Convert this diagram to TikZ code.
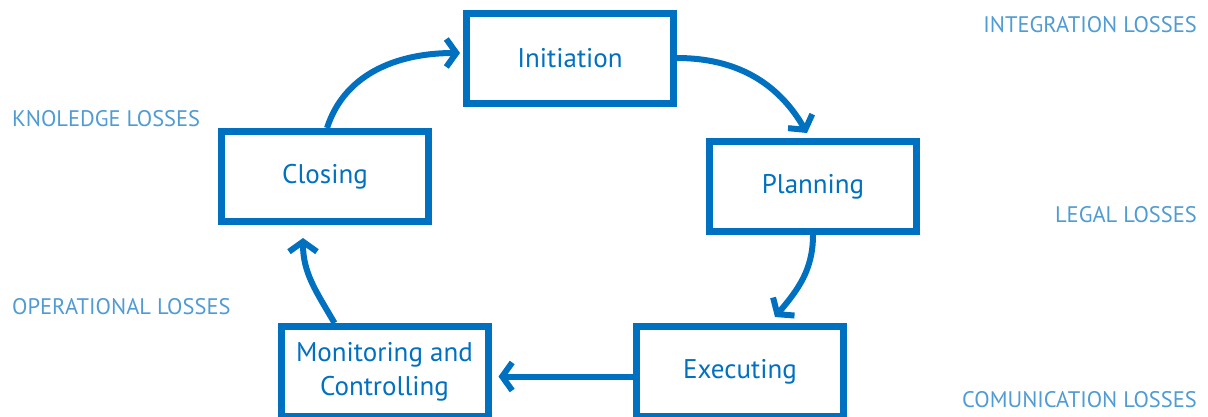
\documentclass[tikz,border=0pt]{standalone}
\usepackage{fontspec}
\setmainfont{PT Sans}
\usepackage{xcolor}
\usetikzlibrary{positioning,arrows.meta}
\definecolor{boxblue}{RGB}{0,112,192}
\definecolor{lossblue}{RGB}{79,155,211}

\begin{document}
\begin{tikzpicture}
[x=1pt, y=-1pt, font=\fontsize{27}{34}\selectfont,
    phase/.style={rectangle, draw=boxblue, line width=7pt, text=boxblue,
        minimum width=207pt, minimum height=90pt, align=center},
    loss/.style={text=lossblue, font=\fontsize{22.5}{24}\selectfont, inner sep=0pt},
    flow/.style={draw=boxblue, line width=6pt,
        -{Straight Barb[length=10pt,width=28pt]}}
    ]
    \useasboundingbox (0,0) rectangle (1208,416);

    % the five phases
    \node [phase] (initiation) at (570,58) {Initiation};
    \node [phase] (planning) at (813,186.5) {Planning};
    \node [phase] (executing) at (740,371.5) {Executing};
    \node [phase] (monitoring) at (384.5,371.5) {Monitoring and\\Controlling};
    \node [phase] (closing) at (325,176.5) {Closing};

    % losses
    \node [loss, anchor=east] (integration) at (1197,25) {INTEGRATION LOSSES};
    \node [loss, anchor=east] (legal) at (1197,214.5) {LEGAL LOSSES};
    \node [loss, anchor=east] (communication) at (1197,400) {COMUNICATION LOSSES};
    \node [loss, anchor=west] (knowledge) at (12,119) {KNOLEDGE LOSSES};
    \node [loss, anchor=west] (operational) at (12,307) {OPERATIONAL LOSSES};

    % cycle
    \draw [flow, shorten >=3pt] ([xshift=2pt]closing.north)
        to [out=72, in=180] ([yshift=5pt]initiation.west);
    \draw [flow] (initiation.east)
        to [out=0, in=120] ([xshift=-6pt,yshift=5pt]planning.north);
    \draw [flow] (planning.south)
        to [out=-90, in=50] ([xshift=35pt,yshift=6pt]executing.north);
    \draw [flow, shorten >=7pt] ([yshift=-5pt]executing.west)
        -- ([yshift=-5pt]monitoring.east);
    \draw [flow] ([xshift=-50pt]monitoring.north)
        to [out=120, in=-90] ([xshift=-22pt,yshift=-13pt]closing.south);
\end{tikzpicture}
\end{document}
